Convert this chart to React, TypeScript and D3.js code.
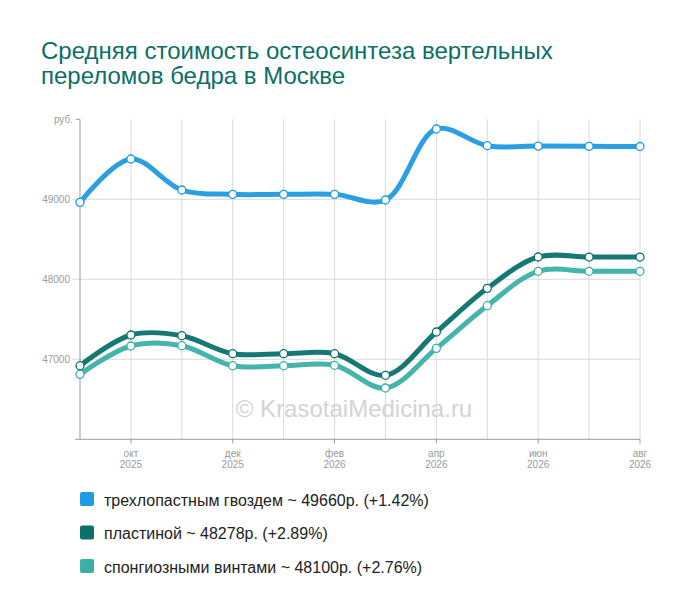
import React from "react";
import * as d3 from "d3";

const categories = [
  "2025-09", "2025-10", "2025-11", "2025-12", "2026-01", "2026-02",
  "2026-03", "2026-04", "2026-05", "2026-06", "2026-07", "2026-08",
];
const xTickMonths = ["2025-10", "2025-12", "2026-02", "2026-04", "2026-06", "2026-08"];
const xTickMonthNames = ["окт", "дек", "фев", "апр", "июн", "авг"];
const xTickYears = ["2025", "2025", "2026", "2026", "2026", "2026"];

const yTicks = [47000, 48000, 49000];
const yTopLabel = "руб.";

const nailValues = [48962, 49504, 49116, 49062, 49062, 49062, 48991, 49879, 49670, 49665, 49662, 49660];
const plateValues = [46920, 47304, 47295, 47070, 47070, 47070, 46800, 47341, 47887, 48279, 48278, 48278];
const screwValues = [46812, 47166, 47170, 46920, 46920, 46925, 46641, 47137, 47670, 48100, 48100, 48100];

const seriesNames = ["трехлопастным гвоздем", "пластиной", "спонгиозными винтами"];
const seriesColors = ["#1f9be1", "#0a716b", "#3bb0a6"];
const legendLast = ["49660", "48278", "48100"];
const legendChange = ["+1.42%", "+2.89%", "+2.76%"];

const titleLines = ["Средняя стоимость остеосинтеза вертельных", "переломов бедра в Москве"];
const watermark = "© KrasotaiMedicina.ru";

export default function App() {
  const W = 700, H = 616;
  const left = 80, right = 640, top = 119.3, bottom = 439.3;
  const x = d3.scalePoint<string>().domain(categories).range([left, right]);
  const y = d3.scaleLinear().domain([46000, 50000]).range([bottom, top]);
  const all = [nailValues, plateValues, screwValues];
  const line = d3
    .line<number>()
    .x((_, i) => x(categories[i]) as number)
    .y((d) => y(d))
    .curve(d3.curveCatmullRom.alpha(0.5));
  const font = "'Liberation Sans', Arial, sans-serif";
  const gray = "#9a9a9a";

  return (
    <svg width={W} height={H} style={{ position: "absolute", left: 0, top: 0, background: "#fff" }} fontFamily={font}>
      <rect width={W} height={H} fill="#fff" />
      <text fontSize={24} fill="#0b6f68">
        <tspan x={41} y={59}>{titleLines[0]}</tspan>
        <tspan x={41} y={84}>{titleLines[1]}</tspan>
      </text>

      {/* vertical grid */}
      {categories.slice(1).map((c) => (
        <line key={c} x1={x(c)} x2={x(c)} y1={top} y2={bottom} stroke="#dadada" strokeWidth={1} />
      ))}
      {/* horizontal grid */}
      {yTicks.map((v) => (
        <g key={v}>
          <line x1={72} x2={right} y1={y(v)} y2={y(v)} stroke="#dadada" strokeWidth={1} />
          <text x={70} y={y(v) + 3.5} fontSize={10} fill={gray} textAnchor="end">{v}</text>
        </g>
      ))}
      <line x1={76} x2={left} y1={y(50000)} y2={y(50000)} stroke={gray} strokeWidth={1} />
      <text x={73} y={y(50000) + 3.5} fontSize={10} fill={gray} textAnchor="end">{yTopLabel}</text>

      {/* axes */}
      <line x1={left} x2={left} y1={top} y2={bottom} stroke={gray} strokeWidth={1} />
      <line x1={75} x2={right} y1={bottom} y2={bottom} stroke={gray} strokeWidth={1} />
      {xTickMonths.map((m, i) => (
        <g key={m}>
          <line x1={x(m)} x2={x(m)} y1={bottom} y2={bottom + 4} stroke={gray} strokeWidth={1} />
          <text x={x(m)} y={456.5} fontSize={10} fill={gray} textAnchor="middle">{xTickMonthNames[i]}</text>
          <text x={x(m)} y={468} fontSize={10} fill={gray} textAnchor="middle">{xTickYears[i]}</text>
        </g>
      ))}

      <text x={354} y={417} fontSize={24} fill="#d3d3d3" textAnchor="middle">{watermark}</text>

      {/* series */}
      {all.map((vals, s) => (
        <path key={"l" + s} d={line(vals) || ""} fill="none" stroke={seriesColors[s]} strokeWidth={5} strokeLinecap="round" strokeOpacity={0.95} />
      ))}
      {all.map((vals, s) =>
        vals.map((v, i) => (
          <circle key={s + "-" + i} cx={x(categories[i])} cy={y(v)} r={4} fill="#fff" stroke={seriesColors[s]} strokeWidth={1.3} />
        ))
      )}

      {/* legend */}
      {seriesNames.map((n, i) => (
        <g key={n}>
          <rect x={80} y={492 + i * 33.5} width={14} height={14} rx={2} fill={seriesColors[i]} />
          <text x={104} y={505.5 + i * 33.5} fontSize={16} fill="#222">
            {`${n} ~ ${legendLast[i]}р. (${legendChange[i]})`}
          </text>
        </g>
      ))}
    </svg>
  );
}
